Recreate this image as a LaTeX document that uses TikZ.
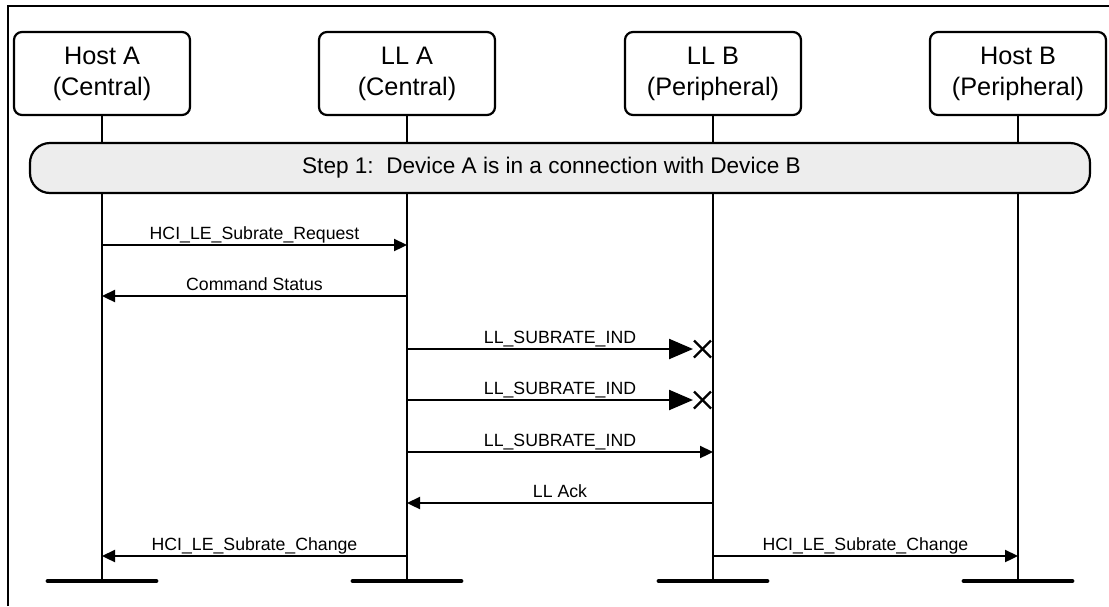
\documentclass[tikz,border=0pt]{standalone}
\usepackage{fontspec}
\setmainfont{Liberation Sans}
\usetikzlibrary{arrows.meta,calc}
\tikzset{
  x=1pt, y=-1pt,
  actor/.style={draw, line width=2.2pt, rounded corners=8pt, minimum width=176pt, minimum height=83pt,
    align=center, inner sep=0pt, font=\fontsize{25.3}{31}\selectfont},
  band/.style={draw, line width=2.2pt, rounded corners=20pt, fill=black!7, minimum width=1060pt,
    minimum height=50pt, inner sep=0pt, font=\fontsize{22.6}{26}\selectfont},
  life/.style={line width=2.3pt},
  bar/.style={line width=4.8pt, line cap=round},
  msg/.style={line width=2.3pt, -{Triangle[length=13pt,width=12pt]}},
  lostmsg/.style={line width=2.3pt, -{Triangle[length=24pt,width=20pt]}},
  cross/.style={line width=2.2pt},
  lbl/.style={font=\fontsize{17.7}{20}\selectfont, anchor=base, inner sep=0pt},
  frame/.style={line width=2.5pt},
}
\begin{document}
\begin{tikzpicture}
\useasboundingbox (0,0) rectangle (1109,606);
% frame
\coordinate (f0) at (8,606);
\coordinate (f1) at (8,6);
\coordinate (f2) at (1109,6);
\draw[frame] (f0) -- (f1) -- (f2);
% actors
\node[actor] (hA) at (102,73.5) {Host A\\(Central)};
\node[actor] (lA) at (407,73.5) {LL A\\(Central)};
\node[actor] (lB) at (713,73.5) {LL B\\(Peripheral)};
\node[actor] (hB) at (1018,73.5) {Host B\\(Peripheral)};
% lifeline ends
\coordinate (eA) at (102,581);
\coordinate (eLA) at (407,581);
\coordinate (eLB) at (713,581);
\coordinate (eB) at (1018,581);
\draw[life] (hA.south) -- (eA);
\draw[life] (lA.south) -- (eLA);
\draw[life] (lB.south) -- (eLB);
\draw[life] (hB.south) -- (eB);
\foreach \e in {eA,eLA,eLB,eB} {
  \draw[bar] ($(\e)+(-54,0)$) -- ($(\e)+(54,0)$);
}
% step band
\node[band] (step) at (560,168) {\hspace*{-17pt}Step 1:\ \ Device A is in a connection with Device B};
% messages
\draw[msg] (hA |- 0,245) -- (lA |- 0,245)
  node[lbl, midway, yshift=6pt] {HCI\_LE\_Subrate\_Request};
\draw[msg] (lA |- 0,296) -- (hA |- 0,296)
  node[lbl, midway, yshift=6pt] {Command Status};
% lost messages
\coordinate (x1) at (693,349);
\coordinate (x2) at (693,400);
\draw[lostmsg] (lA |- x1) -- (x1);
\node[lbl] (t1) at ($($(lA |- x1)!0.5!(lB |- x1)$)+(0,-6)$) {LL\_SUBRATE\_IND};
\draw[cross] ($(x1)+(1,-8.5)$) -- ($(x1)+(18,8.5)$);
\draw[cross] ($(x1)+(1,8.5)$) -- ($(x1)+(18,-8.5)$);
\draw[lostmsg] (lA |- x2) -- (x2);
\node[lbl] (t2) at ($($(lA |- x2)!0.5!(lB |- x2)$)+(0,-6)$) {LL\_SUBRATE\_IND};
\draw[cross] ($(x2)+(1,-8.5)$) -- ($(x2)+(18,8.5)$);
\draw[cross] ($(x2)+(1,8.5)$) -- ($(x2)+(18,-8.5)$);
\draw[msg] (lA |- 0,452) -- (lB |- 0,452)
  node[lbl, midway, yshift=6pt] {LL\_SUBRATE\_IND};
\draw[msg] (lB |- 0,503) -- (lA |- 0,503)
  node[lbl, midway, yshift=6pt] {LL Ack};
\draw[msg] (lA |- 0,556) -- (hA |- 0,556)
  node[lbl, midway, yshift=6pt] {HCI\_LE\_Subrate\_Change};
\draw[msg] (lB |- 0,556) -- (hB |- 0,556)
  node[lbl, midway, yshift=6pt] {HCI\_LE\_Subrate\_Change};
\end{tikzpicture}
\end{document}
